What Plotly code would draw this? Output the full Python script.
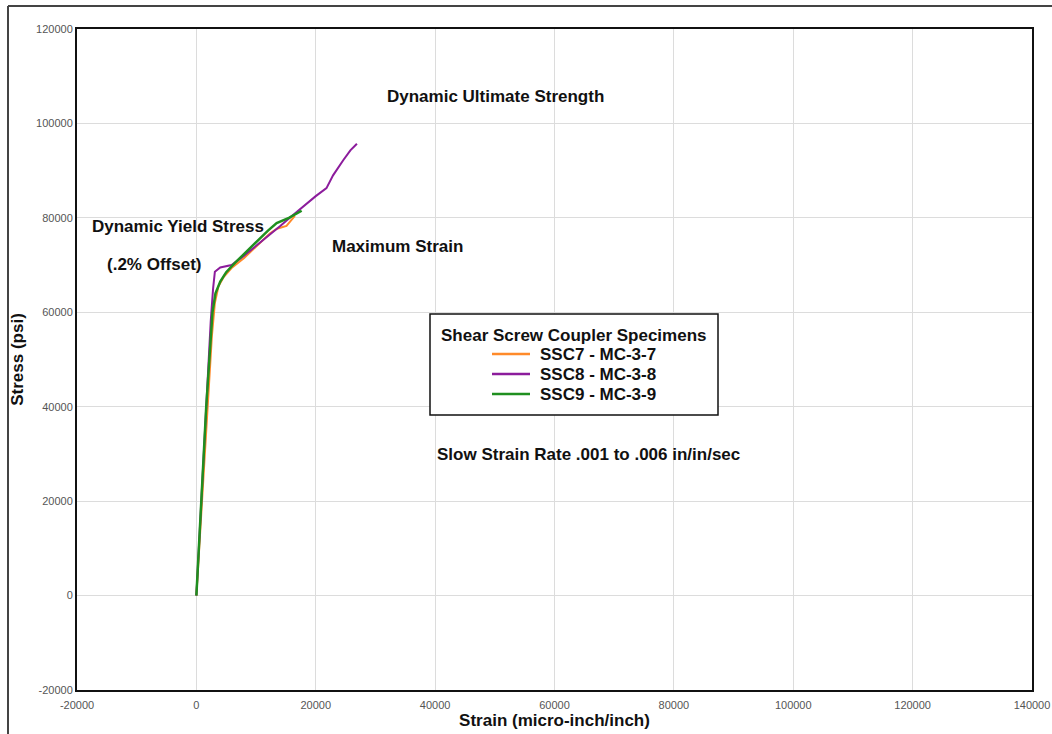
import plotly.graph_objects as go

# ---- data ----
series_names = ["SSC7 - MC-3-7", "SSC8 - MC-3-8", "SSC9 - MC-3-9"]
series_colors = ["#ff8a2a", "#8c1c9c", "#1f8f1f"]

ssc7_strain = [0, 950, 1800, 2600, 3100, 3700, 4600, 6000, 8000, 10000, 12300, 13500, 15100, 16500]
ssc7_stress = [0, 20000, 40000, 55000, 62000, 65500, 67500, 69500, 71500, 74000, 76700, 77700, 78300, 80400]

ssc8_strain = [0, 850, 1600, 2400, 2800, 3100, 4000, 5900, 8000, 10000, 12000, 14000, 16000, 18000,
               20000, 21800, 22900, 24600, 25800, 26900]
ssc8_stress = [0, 20000, 40000, 58000, 65000, 68600, 69500, 70000, 72000, 74000, 76200, 78200, 80400,
               82600, 84600, 86300, 89000, 92200, 94300, 95700]

ssc9_strain = [0, 850, 1650, 2700, 3200, 4000, 5000, 6500, 8500, 10500, 12000, 13450, 15500, 17640]
ssc9_stress = [0, 20000, 40000, 60000, 64000, 66500, 68500, 70500, 73000, 75500, 77300, 78900, 80000, 81500]

x_ticks = [-20000, 0, 20000, 40000, 60000, 80000, 100000, 120000, 140000]
y_ticks = [-20000, 0, 20000, 40000, 60000, 80000, 100000, 120000]

x_title = "Strain (micro-inch/inch)"
y_title = "Stress (psi)"
legend_title = "Shear Screw Coupler Specimens"
notes = ["Dynamic Ultimate Strength", "Dynamic Yield Stress", "(.2% Offset)",
         "Maximum Strain", "Slow Strain Rate .001 to .006 in/in/sec"]

# ---- layout geometry (pixels) ----
W, H = 1052, 734
L, R, T, B = 77, 20, 29, 44
PW, PH = W - L - R, H - T - B


def px(x):
    return (x - L) / PW


def py(y):
    return (H - B - y) / PH


FONT = "Liberation Sans, Arial, sans-serif"

fig = go.Figure()
all_x = [ssc7_strain, ssc8_strain, ssc9_strain]
all_y = [ssc7_stress, ssc8_stress, ssc9_stress]
widths = [2, 2, 2.5]
for name, color, xs, ys, w in zip(series_names, series_colors, all_x, all_y, widths):
    fig.add_trace(go.Scatter(x=xs, y=ys, mode="lines", name=name,
                             line=dict(color=color, width=w), showlegend=False))

axis_common = dict(showgrid=True, gridcolor="#dcdcdc", gridwidth=1, zeroline=False,
                   showline=True, linecolor="#111", linewidth=2, mirror=True, automargin=False,
                   tickfont=dict(family=FONT, size=11, color="#555"))

fig.update_xaxes(range=[-20000, 140000], tickvals=x_ticks, ticktext=[str(v) for v in x_ticks],
                 ticks="outside", ticklen=4, tickcolor="rgba(0,0,0,0)",
                 title=dict(text="<b>" + x_title + "</b>", font=dict(family=FONT, size=17, color="#111"),
                            standoff=3),
                 **axis_common)
fig.update_yaxes(range=[-20000, 120000], tickvals=y_ticks, ticktext=[str(v) for v in y_ticks],
                 ticks="",
                 title=dict(text="<b>" + y_title + "</b>", font=dict(family=FONT, size=17, color="#111"),
                            standoff=8),
                 **axis_common)

ann_font = dict(family=FONT, size=17, color="#111")
ann_pos = [(495, 96), (178, 226), (154, 264), (397, 246), (588, 454)]
annotations = []
for text, (ax_, ay_) in zip(notes, ann_pos):
    annotations.append(dict(text="<b>" + text + "</b>", x=px(ax_), y=py(ay_), xref="paper", yref="paper",
                            showarrow=False, xanchor="center", yanchor="middle", font=ann_font))

# custom legend box
shapes = [
    dict(type="rect", xref="paper", yref="paper", x0=px(430), x1=px(718), y0=py(415), y1=py(314),
         line=dict(color="#111", width=1.5), fillcolor="white", layer="above"),
]
annotations.append(dict(text="<b>" + legend_title + "</b>", x=px(574), y=py(335), xref="paper", yref="paper",
                        showarrow=False, xanchor="center", yanchor="middle", font=ann_font))
for i, (name, color) in enumerate(zip(series_names, series_colors)):
    yy = 354 + 20 * i
    shapes.append(dict(type="line", xref="paper", yref="paper", x0=px(492), x1=px(530), y0=py(yy), y1=py(yy),
                       line=dict(color=color, width=2.5), layer="above"))
    annotations.append(dict(text="<b>" + name + "</b>", x=px(538), y=py(yy), xref="paper", yref="paper",
                            showarrow=False, xanchor="left", yanchor="middle", font=ann_font))

# outer frame (top and left edges visible)
shapes.append(dict(type="line", xref="paper", yref="paper", x0=px(8), x1=px(W + 10), y0=py(6), y1=py(6),
                   line=dict(color="#444", width=2), layer="above"))
shapes.append(dict(type="line", xref="paper", yref="paper", x0=px(8), x1=px(8), y0=py(6), y1=py(H + 10),
                   line=dict(color="#444", width=2), layer="above"))

fig.update_layout(width=W, height=H, margin=dict(l=L, r=R, t=T, b=B, pad=0, autoexpand=False),
                  paper_bgcolor="white", plot_bgcolor="white",
                  annotations=annotations, shapes=shapes, showlegend=False)

fig.write_html("out.html", config={"displayModeBar": False},
               post_script="document.body.style.margin='0';document.body.style.overflow='hidden';")
